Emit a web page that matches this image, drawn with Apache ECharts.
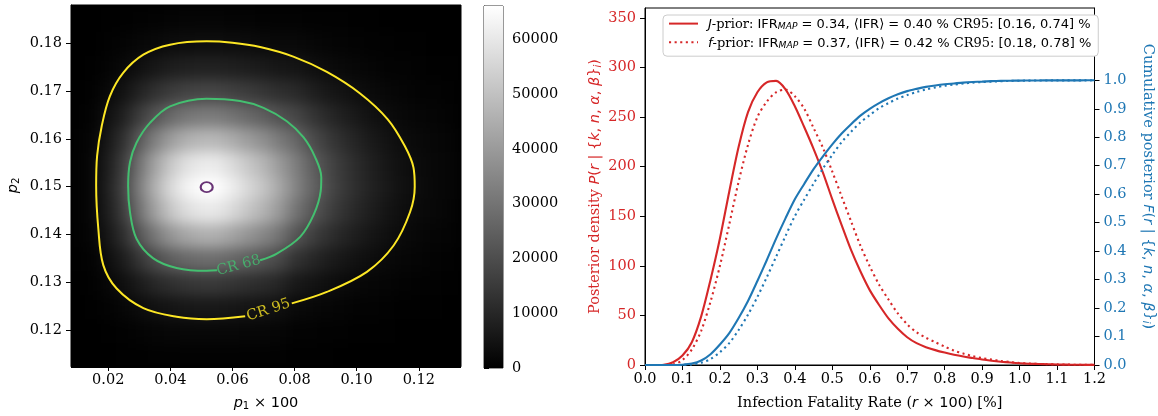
<!DOCTYPE html>
<html><head><meta charset="utf-8">
<script src="https://cdn.jsdelivr.net/npm/echarts@6/dist/echarts.min.js"></script>
<style>
html,body{margin:0;padding:0;background:#fff;}
#wrap{position:relative;width:1158px;height:416px;overflow:hidden;}
#heatClip{position:absolute;left:71px;top:5px;width:390px;height:363px;overflow:hidden;background:#000;}
#heat{position:absolute;left:0;top:0;width:390px;height:363px;filter:blur(7px);}
#main{position:absolute;left:0;top:0;width:1158px;height:416px;}
</style></head><body>
<div id="wrap"><div id="heatClip"><div id="heat"></div></div><div id="main"></div></div>
<script>
// ================= LEFT PANEL DATA =================
const p1Range = [0.008, 0.1336];
const p2Range = [0.1125, 0.188];
const p1Ticks = [0.02, 0.04, 0.06, 0.08, 0.10, 0.12];
const p2Ticks = [0.12, 0.13, 0.14, 0.15, 0.16, 0.17, 0.18];
const colorbarMax = 66100;
const colorbarTicks = [0, 10000, 20000, 30000, 40000, 50000, 60000];

// posterior density grid (values in thousands), cell centres
const heatX = [0.010,0.015,0.020,0.025,0.030,0.035,0.040,0.045,0.050,0.055,0.060,0.065,0.070,0.075,0.080,0.085,0.090,0.095,0.100,0.105,0.110,0.115,0.120,0.125,0.130];
const heatY = [0.185,0.180,0.175,0.170,0.165,0.160,0.155,0.150,0.145,0.140,0.135,0.130,0.125,0.120,0.115];
const heatRows = [
 [0,0,0.2,0.3,0.6,0.9,1.0,1.2,1.2,1.2,1.1,1.0,0.9,0.8,0.8,0.6,0.5,0.4,0.3,0.2,0.1,0.1,0.1,0.1,0],
 [0,0.1,0.5,1.0,1.7,2.4,3.0,3.4,3.5,3.5,3.3,3.0,2.7,2.3,2.3,1.8,1.3,1.0,0.8,0.6,0.4,0.3,0.2,0.1,0.1],
 [0.1,0.3,1.1,2.3,4.2,6.0,7.4,8.2,8.6,8.6,8.0,7.4,6.7,5.7,5.4,4.2,3.2,2.4,1.8,1.3,0.9,0.7,0.5,0.3,0.2],
 [0.2,0.6,2.3,4.8,8.8,12.4,15.3,17.1,17.9,17.9,16.7,15.3,13.8,11.9,10.8,8.4,6.3,4.8,3.6,2.7,1.9,1.3,0.9,0.7,0.5],
 [0.3,1.1,4.1,8.6,15.5,21.9,27.0,30.2,31.6,31.6,29.5,27.0,24.4,21.0,18.5,14.3,10.8,8.2,6.2,4.5,3.2,2.2,1.6,1.2,0.8],
 [0.4,1.6,6.2,12.9,23.3,32.9,40.5,45.3,47.4,47.4,44.3,40.5,36.7,31.5,26.9,20.8,15.7,11.9,9.0,6.6,4.7,3.2,2.3,1.7,1.2],
 [0.5,2.0,7.9,16.4,29.8,42.0,51.7,57.8,60.6,60.6,56.6,51.7,46.8,40.2,33.2,25.7,19.5,14.7,11.1,8.1,5.8,4.0,2.9,2.1,1.5],
 [0.6,2.2,8.6,17.8,32.3,45.5,56.1,62.7,65.7,65.7,61.4,56.1,50.8,43.6,34.9,27.0,20.4,15.4,11.7,8.6,6.1,4.2,3.0,2.2,1.6],
 [0.5,2.0,7.8,16.2,29.4,41.4,51.1,57.1,59.8,59.8,55.9,51.1,46.2,39.7,30.6,23.7,17.9,13.5,10.2,7.5,5.3,3.7,2.7,2.0,1.4],
 [0.4,1.5,5.9,12.2,22.1,31.2,38.4,42.9,45.0,45.0,42.1,38.4,34.8,29.9,22.2,17.2,13.0,9.8,7.4,5.4,3.8,2.7,1.9,1.4,1.0],
 [0.2,0.9,3.7,7.6,13.8,19.4,24.0,26.8,28.1,28.1,26.2,24.0,21.7,18.6,13.3,10.3,7.8,5.9,4.5,3.3,2.3,1.6,1.2,0.9,0.6],
 [0.1,0.5,1.9,3.9,7.1,10.0,12.3,13.8,14.5,14.5,13.5,12.3,11.2,9.6,6.6,5.1,3.9,2.9,2.2,1.6,1.2,0.8,0.6,0.4,0.3],
 [0.1,0.2,0.8,1.7,3.0,4.3,5.3,5.9,6.2,6.2,5.8,5.3,4.8,4.1,2.7,2.1,1.6,1.2,0.9,0.7,0.5,0.3,0.2,0.2,0.1],
 [0,0.1,0.3,0.6,1.1,1.5,1.9,2.1,2.2,2.2,2.0,1.9,1.7,1.5,0.9,0.7,0.5,0.4,0.3,0.2,0.2,0.1,0.1,0.1,0],
 [0,0,0.1,0.2,0.3,0.4,0.5,0.6,0.6,0.6,0.6,0.5,0.5,0.4,0.3,0.2,0.2,0.1,0.1,0.1,0,0,0,0,0]
];

// credible-region contours (p1*100, p2), open where the inline label sits
const contourCR95 = [[0.0791,0.1256],[0.0904,0.1280],[0.1033,0.1322],[0.1119,0.1377],[0.1172,0.1447],[0.1187,0.1500],[0.1183,0.1540],[0.1155,0.1585],[0.1100,0.1641],[0.1011,0.1695],[0.0904,0.1740],[0.0796,0.1772],[0.0689,0.1792],[0.0600,0.1801],[0.0517,0.1804],[0.0399,0.1797],[0.0313,0.1776],[0.0248,0.1738],[0.0205,0.1689],[0.0179,0.1627],[0.0164,0.1564],[0.0161,0.1502],[0.0168,0.1412],[0.0184,0.1336],[0.0227,0.1287],[0.0313,0.1246],[0.0420,0.1228],[0.0517,0.1223],[0.0641,0.1229]];
const contourCR68 = [[0.0689,0.1346],[0.0743,0.1360],[0.0818,0.1395],[0.0862,0.1442],[0.0884,0.1490],[0.0886,0.1520],[0.0866,0.1562],[0.0829,0.1603],[0.0775,0.1637],[0.0700,0.1665],[0.0624,0.1679],[0.0517,0.1684],[0.0399,0.1668],[0.0335,0.1634],[0.0291,0.1592],[0.0270,0.1551],[0.0264,0.1502],[0.0270,0.1447],[0.0291,0.1391],[0.0345,0.1350],[0.0420,0.1330],[0.0517,0.1324],[0.0550,0.1325]];
const modeContour = [[0.0517, 0.1499]];
const contourLabelText = ['CR 68', 'CR 95'];
const contourLabelAt = [[0.0620, 0.1335], [0.0716, 0.1242]];

// ================= RIGHT PANEL DATA =================
const ifrX = [0,0.025,0.05,0.075,0.1,0.125,0.15,0.175,0.2,0.225,0.25,0.275,0.3,0.325,0.35,0.375,0.4,0.425,0.45,0.475,0.5,0.525,0.55,0.575,0.6,0.625,0.65,0.675,0.7,0.725,0.75,0.775,0.8,0.825,0.85,0.875,0.9,0.925,0.95,0.975,1.0,1.025,1.05,1.075,1.1,1.125,1.15,1.175,1.2];
const densJ = [0,0,0.3,2.8,9.5,23,49,86,127.5,175,220,255,275,285,286.5,278,261,240,218,194,167,141,116,94.5,75.5,60.5,47,36.5,28,22,18,15,12.5,10.3,8.5,7,5.5,4.3,3.3,2.5,1.8,1.3,1.0,0.7,0.5,0.35,0.25,0.15,0.1];
const densF = [0,0,0,0.5,5,15.6,34.5,64,100,142,185,222,250,265.5,275,277.8,271,258.5,239,219,195,170,145,120.5,99.5,81,66,52,41,33,27.5,23,18.5,14.5,11.5,9,7,5.5,4,3,2,1.5,1.1,0.8,0.6,0.4,0.3,0.2,0.15];
const cdfJ = [0,0,0,0,0.001,0.005,0.016,0.038,0.072,0.112,0.165,0.225,0.295,0.368,0.444,0.515,0.582,0.636,0.688,0.733,0.775,0.813,0.846,0.876,0.900,0.920,0.937,0.951,0.962,0.970,0.977,0.982,0.986,0.989,0.992,0.994,0.9955,0.997,0.998,0.9985,0.999,0.9993,0.9995,0.9997,0.9998,0.9999,0.9999,1.0,1.0];
const cdfF = [0,0,0,0,0.0005,0.002,0.008,0.021,0.045,0.077,0.123,0.177,0.239,0.308,0.380,0.453,0.523,0.581,0.637,0.690,0.738,0.783,0.819,0.852,0.878,0.902,0.920,0.936,0.948,0.959,0.968,0.975,0.981,0.985,0.989,0.992,0.994,0.9955,0.997,0.998,0.9985,0.999,0.9993,0.9995,0.9997,0.9998,0.9999,0.9999,1.0];
const ifrRange = [0, 1.2];
const densRange = [0, 360];
const cdfRange = [0, 1.254];
const densTicks = [0,50,100,150,200,250,300,350];
const cdfTicks = [0,0.1,0.2,0.3,0.4,0.5,0.6,0.7,0.8,0.9,1.0];
const seriesNames = ['J-prior', 'f-prior', 'F J-prior', 'F f-prior'];
const legendText = {
  'J-prior': '{si|J}{se|-prior: }{ss|IFR}{sub|MAP}{ss| = 0.34, \u27E8IFR\u27E9 = 0.40 %}{se| CR95: }{ss|[0.16, 0.74] %}',
  'f-prior': '{si|f}{se|-prior: }{ss|IFR}{sub|MAP}{ss| = 0.37, \u27E8IFR\u27E9 = 0.42 %}{se| CR95: }{ss|[0.18, 0.78] %}'
};

// ================= STYLE =================
const SERIF = 'DejaVu Serif', SANS = 'DejaVu Sans', FS = 14.5, LFS = 13;
const RED = '#d62728', BLUE = '#1f77b4';
const C95 = '#fde725', C68 = '#44bf70', CMODE = '#440154';
function rich(color, fs) {
  fs = fs || FS;
  const lh = Math.round(fs * 1.24), sfs = fs * 0.7, slh = Math.round(fs * 0.6);
  return {
    se: {fontFamily: SERIF, fontSize: fs, color, lineHeight: lh, verticalAlign: 'bottom'},
    ss: {fontFamily: SANS, fontSize: fs, color, lineHeight: lh, verticalAlign: 'bottom'},
    si: {fontFamily: SANS, fontStyle: 'italic', fontSize: fs, color, lineHeight: lh, verticalAlign: 'bottom'},
    sub: {fontFamily: SANS, fontStyle: 'italic', fontSize: sfs, color, lineHeight: slh, verticalAlign: 'bottom'},
    subr: {fontFamily: SANS, fontSize: sfs, color, lineHeight: slh, verticalAlign: 'bottom'}
  };
}
function nameStyle(color) {
  return {fontFamily: SANS, fontSize: FS, color, rich: rich(color)};
}
const tickLabel = (color, fmt, vals, margin) => ({
  customValues: vals, formatter: fmt, fontFamily: SERIF, fontSize: FS, color, margin
});
const tickMark = (vals) => ({show: true, length: 5, lineStyle: {color: '#000', width: 1}, customValues: vals});
const axLine = {show: true, onZero: false, lineStyle: {color: '#000', width: 1}};

// ================= HEATMAP (image layer) =================
const heatData = [];
heatY.forEach((y, r) => heatX.forEach((x, c) => heatData.push([x, y, heatRows[r][c] * 1000])));
const hdx = (heatX[1] - heatX[0]) / 2, hdy = (heatY[0] - heatY[1]) / 2;
const heat = echarts.init(document.getElementById('heat'), null, {renderer: 'canvas'});
heat.setOption({
  animation: false,
  grid: {left: 0, right: 0, top: 0, bottom: 0},
  xAxis: {type: 'value', min: p1Range[0], max: p1Range[1], show: false},
  yAxis: {type: 'value', min: p2Range[0], max: p2Range[1], show: false},
  visualMap: {show: false, type: 'continuous', min: 0, max: colorbarMax, dimension: 2,
    inRange: {color: ['#000000', '#ffffff']}},
  series: [{
    type: 'custom', data: heatData, silent: true,
    renderItem: (params, api) => {
      const x = api.value(0), y = api.value(1);
      const a = api.coord([x - hdx, y + hdy]), b = api.coord([x + hdx, y - hdy]);
      return {type: 'rect', shape: {x: a[0], y: a[1], width: b[0] - a[0] + 1, height: b[1] - a[1] + 1},
        style: {fill: api.visual('color')}};
    }
  }]
});

// ================= MAIN CHART =================
const main = echarts.init(document.getElementById('main'), null, {renderer: 'canvas'});
const xy = (xs, ys) => xs.map((x, i) => [x, ys[i]]);
main.setOption({
  animation: false,
  backgroundColor: 'transparent',
  grid: [
    {left: 71, top: 5, width: 390, height: 363, show: true, borderColor: '#000', borderWidth: 1, backgroundColor: 'transparent'},
    {left: 484, top: 6, width: 19, height: 362, show: true, borderColor: '#333', borderWidth: 1, backgroundColor: 'transparent'},
    {left: 645, top: 8, width: 454, height: 360, show: true, borderColor: '#000', borderWidth: 1, backgroundColor: 'transparent'}
  ],
  xAxis: [
    {type: 'value', gridIndex: 0, min: p1Range[0], max: p1Range[1], splitLine: {show: false},
      axisLine: axLine, axisTick: tickMark(p1Ticks),
      axisLabel: tickLabel('#000', v => v.toFixed(2), p1Ticks, 7),
      name: '{si|p}{subr|1}{ss| \u00D7 100}', nameLocation: 'middle', nameGap: 27, nameTextStyle: nameStyle('#000')},
    {type: 'value', gridIndex: 1, min: 0, max: 1, show: false},
    {type: 'value', gridIndex: 2, min: ifrRange[0], max: ifrRange[1], interval: 0.1, splitLine: {show: false},
      axisLine: axLine, axisTick: {show: true, length: 5, lineStyle: {color: '#000'}},
      axisLabel: {formatter: v => v.toFixed(1), fontFamily: SERIF, fontSize: FS, color: '#000', margin: 7},
      name: '{se|Infection Fatality Rate (}{si|r}{ss| \u00D7 100}{se|) [%]}', nameLocation: 'middle', nameGap: 28,
      nameTextStyle: nameStyle('#000')}
  ],
  yAxis: [
    {type: 'value', gridIndex: 0, min: p2Range[0], max: p2Range[1], splitLine: {show: false},
      axisLine: axLine, axisTick: tickMark(p2Ticks),
      axisLabel: tickLabel('#000', v => v.toFixed(2), p2Ticks, 9),
      name: '{si|p}{subr|2}', nameLocation: 'middle', nameRotate: 90, nameGap: 50, nameTextStyle: nameStyle('#000')},
    {type: 'value', gridIndex: 1, position: 'right', min: 0, max: colorbarMax, splitLine: {show: false},
      axisLine: {show: true, lineStyle: {color: '#333', width: 1}}, axisTick: tickMark(colorbarTicks),
      axisLabel: tickLabel('#000', v => String(v), colorbarTicks, 9)},
    {type: 'value', gridIndex: 2, min: densRange[0], max: densRange[1], splitLine: {show: false},
      axisLine: axLine, axisTick: tickMark(densTicks),
      axisLabel: tickLabel(RED, v => String(v), densTicks, 9),
      name: '{se|Posterior density }{si|P}{ss|(}{si|r}{ss| | {}{si|k}{ss|, }{si|n}{ss|, }{si|\u03B1}{ss|, }{si|\u03B2}}{sub|i}{ss|)}',
      nameLocation: 'middle', nameRotate: 90, nameGap: 42, nameTextStyle: nameStyle(RED)},
    {type: 'value', gridIndex: 2, position: 'right', min: cdfRange[0], max: cdfRange[1], splitLine: {show: false},
      axisLine: axLine, axisTick: tickMark(cdfTicks),
      axisLabel: tickLabel(BLUE, v => v.toFixed(1), cdfTicks, 9),
      name: '{se|Cumulative posterior }{si|F}{ss|(}{si|r}{ss| | {}{si|k}{ss|, }{si|n}{ss|, }{si|\u03B1}{ss|, }{si|\u03B2}}{sub|i}{ss|)}',
      nameLocation: 'middle', nameRotate: -90, nameGap: 46, nameTextStyle: nameStyle(BLUE)}
  ],
  legend: {
    data: [seriesNames[0], seriesNames[1]], orient: 'vertical', left: 663, top: 15,
    padding: [3, 7, 6, 5], itemGap: 5, itemWidth: 29, itemHeight: 14,
    backgroundColor: '#ffffff', borderColor: '#cccccc', borderWidth: 1, borderRadius: 4,
    selectedMode: false,
    itemStyle: {opacity: 0},
    formatter: n => legendText[n],
    textStyle: {fontFamily: SANS, fontSize: LFS, color: '#000', padding: [0, 0, 0, 5], rich: rich('#000', LFS)}
  },
  series: [
    {type: 'custom', xAxisIndex: 1, yAxisIndex: 1, data: [[0, colorbarMax]], silent: true,
      renderItem: (params, api) => {
        const a = api.coord([0, api.value(1)]), b = api.coord([1, 0]);
        return {type: 'rect', shape: {x: a[0], y: a[1], width: b[0] - a[0], height: b[1] - a[1]},
          style: {fill: new echarts.graphic.LinearGradient(0, 1, 0, 0, [{offset: 0, color: '#000'}, {offset: 1, color: '#fff'}])}};
      }},
    {type: 'line', xAxisIndex: 0, yAxisIndex: 0, data: contourCR95, symbol: 'none', smooth: 0.35, silent: true,
      lineStyle: {color: C95, width: 2}},
    {type: 'line', xAxisIndex: 0, yAxisIndex: 0, data: contourCR68, symbol: 'none', smooth: 0.35, silent: true,
      lineStyle: {color: C68, width: 2}},
    {type: 'scatter', xAxisIndex: 0, yAxisIndex: 0, data: modeContour, symbol: 'circle', symbolSize: [12, 10], silent: true,
      itemStyle: {color: 'rgba(0,0,0,0)', borderColor: CMODE, borderWidth: 2}},
    {type: 'scatter', xAxisIndex: 0, yAxisIndex: 0, symbolSize: 0, silent: true,
      data: contourLabelAt.map((p, i) => ({value: p, label: {
        show: true, position: 'inside', formatter: contourLabelText[i], rotate: i === 0 ? 15 : 18,
        color: i === 0 ? C68 : C95, fontFamily: SERIF, fontSize: FS}}))},
    {name: seriesNames[0], type: 'line', xAxisIndex: 2, yAxisIndex: 2, data: xy(ifrX, densJ), symbol: 'none', smooth: 0.3,
      lineStyle: {color: RED, width: 2.1}, itemStyle: {color: RED}},
    {name: seriesNames[1], type: 'line', xAxisIndex: 2, yAxisIndex: 2, data: xy(ifrX, densF), symbol: 'none', smooth: 0.3,
      lineStyle: {color: RED, width: 2.1, type: [2.1, 3.5]}, itemStyle: {color: RED}},
    {name: seriesNames[2], type: 'line', xAxisIndex: 2, yAxisIndex: 3, data: xy(ifrX, cdfJ), symbol: 'none', smooth: 0.3,
      lineStyle: {color: BLUE, width: 2.1}, itemStyle: {color: BLUE}},
    {name: seriesNames[3], type: 'line', xAxisIndex: 2, yAxisIndex: 3, data: xy(ifrX, cdfF), symbol: 'none', smooth: 0.3,
      lineStyle: {color: BLUE, width: 2.1, type: [2.1, 3.5]}, itemStyle: {color: BLUE}}
  ]
});
</script></body></html>
